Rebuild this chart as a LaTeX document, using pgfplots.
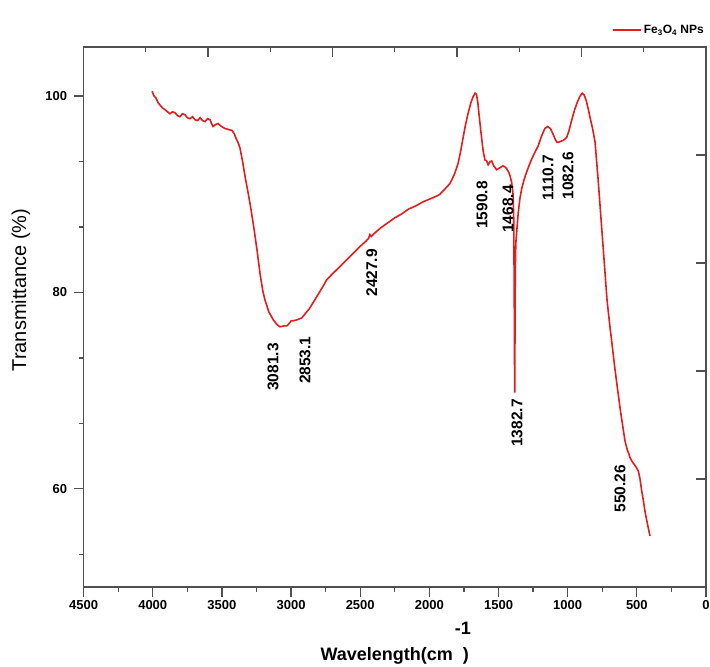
\documentclass[border=0pt]{standalone}
\usepackage{fontspec}
\setmainfont{Liberation Sans}
\usepackage{pgfplots}
\pgfplotsset{compat=1.18}
\usetikzlibrary{calc}
\definecolor{ftred}{RGB}{228,28,30}
\definecolor{axgray}{RGB}{80,80,80}
\tikzset{lab/.style={rotate=90, font=\bfseries\fontsize{15.5}{15.5}\selectfont, inner sep=0pt}}

\pgfplotstableread{
wn T
4005 100.5
3990 100.0
3977 99.8
3960 99.3
3948 99.1
3930 98.8
3911 98.6
3893 98.4
3875 98.2
3857 98.4
3839 98.3
3820 98.0
3803 97.9
3785 98.2
3767 98.1
3750 97.8
3731 97.7
3712 97.9
3695 97.6
3676 97.5
3658 97.8
3640 97.5
3622 97.4
3604 97.7
3586 97.6
3575 97.2
3564 96.9
3546 97.1
3528 97.2
3503 96.9
3478 96.7
3452 96.6
3427 96.5
3412 96.2
3398 95.7
3384 95.3
3369 94.7
3350 93.3
3330 91.6
3310 90.1
3296 89.0
3270 86.7
3246 84.3
3224 81.9
3205 80.2
3188 79.2
3160 78.0
3128 77.2
3100 76.7
3080 76.5
3050 76.6
3030 76.6
3010 76.9
3000 77.1
2990 77.1
2960 77.2
2923 77.4
2900 77.8
2870 78.3
2839 79.0
2800 79.9
2770 80.6
2742 81.3
2700 81.9
2650 82.6
2600 83.3
2550 84.0
2500 84.7
2460 85.2
2440 85.5
2430 85.9
2420 85.7
2400 86.0
2350 86.6
2300 87.1
2250 87.6
2200 88.0
2150 88.5
2100 88.8
2050 89.2
2000 89.5
1950 89.8
1924 90.0
1890 90.5
1851 91.1
1820 92.0
1793 93.1
1775 94.3
1757 95.7
1740 97.0
1721 98.2
1700 99.3
1685 99.9
1670 100.3
1660 100.2
1650 99.4
1640 98.0
1630 96.7
1622 95.7
1610 94.3
1598 93.5
1586 93.4
1575 93.0
1562 93.3
1550 93.4
1535 92.9
1514 92.5
1490 92.7
1468 92.9
1455 92.8
1441 92.6
1425 92.2
1417 91.9
1405 91.2
1395 90.0
1390 87.5
1386.5 80.0
1384 72.0
1382.7 69.8
1381.5 74.0
1380 80.0
1377 84.0
1374 85.2
1369 86.1
1357 88.2
1345 89.6
1332 90.6
1315 91.5
1296 92.3
1280 92.9
1260 93.6
1240 94.2
1214 94.9
1190 95.9
1165 96.7
1145 96.9
1125 96.7
1105 96.1
1090 95.6
1078 95.3
1065 95.3
1050 95.4
1030 95.5
1007 95.8
990 96.5
970 97.6
950 98.6
930 99.4
910 100.0
895 100.3
880 100.1
865 99.5
850 98.6
835 97.6
820 96.7
802 95.3
780 91.5
760 87.7
740 83.9
716 79.3
700 77.2
680 74.8
660 72.4
640 70.2
620 68.1
600 66.2
586 64.9
570 64.0
556 63.5
550 63.2
535 62.8
520 62.5
505 62.2
489 61.8
477 61.0
465 59.8
453 58.8
441 57.7
430 56.9
420 56.2
405 55.2
}\ftir

\begin{document}
\begin{tikzpicture}
\pgfplotsset{frame/.style={scale only axis, width=622.4pt, height=540pt,
    xmin=0, xmax=4500, ymin=50, ymax=105, x dir=reverse}}
\begin{axis}[frame, name=a, clip=false,
    axis line style={axgray, line width=1.3pt},
    every tick/.style={axgray, line width=1.3pt},
    tick align=outside, xtick pos=bottom, ytick pos=left,
    xtick={0,500,...,4500}, minor xtick={250,750,...,4250},
    ytick={60,80,100}, minor ytick={53.333,66.667,73.333,86.667,93.333},
    major tick length=10pt, minor tick length=5pt,
    /pgf/number format/assume math mode=true,
    /pgf/number format/1000 sep={},
    tick label style={font=\bfseries\fontsize{13}{13}\selectfont},
    yticklabel style={xshift=-3pt},
    xlabel={\bfseries\fontsize{18}{18}\selectfont Wavelength(cm\hspace{2pt}\rlap{\raisebox{26pt}{-1}}\hspace{8pt})},
    xlabel style={at={(axis description cs:0.5,0)}, anchor=base, yshift=-73pt},
    ylabel={\fontsize{20}{20}\selectfont Transmittance (\%)},
    ylabel style={at={(axis description cs:0,0.55)}, anchor=center, yshift=62.6pt},
    legend style={draw=none, fill=none, at={(axis description cs:1,1)}, anchor=east,
      yshift=17pt, inner sep=0pt, font=\bfseries\fontsize{12}{12}\selectfont},
    legend image code/.code={\draw[#1] (0pt,0pt) -- (28pt,0pt);},
  ]
  \addplot[ftred, line width=1.6pt] table[x=wn, y=T] {\ftir};
  \addlegendentry{Fe\textsubscript{3}O\textsubscript{4} NPs}
  \node[lab] at (axis cs:3131,72.4) {3081.3};
  \node[lab] at (axis cs:2899,73.1) {2853.1};
  \node[lab] at (axis cs:2416,82.0) {2427.9};
  \node[lab] at (axis cs:1620,88.9) {1590.8};
  \node[lab] at (axis cs:1431,88.5) {1468.4};
  \node[lab] at (axis cs:1142,91.7) {1110.7};
  \node[lab] at (axis cs:998,91.9) {1082.6};
  \node[lab] at (axis cs:1367,66.7) {1382.7};
  \node[lab] at (axis cs:622,60.0) {550.26};
  % inward ticks along the top edge
  \draw[axgray, line width=1.3pt]
    (axis cs:900,105) -- (axis cs:900,104)
    (axis cs:1800,105) -- (axis cs:1800,104)
    (axis cs:2700,105) -- (axis cs:2700,104)
    (axis cs:3600,105) -- (axis cs:3600,104)
    (axis cs:450,105) -- (axis cs:450,104.5)
    (axis cs:1350,105) -- (axis cs:1350,104.5)
    (axis cs:2250,105) -- (axis cs:2250,104.5)
    (axis cs:3150,105) -- (axis cs:3150,104.5)
    (axis cs:4050,105) -- (axis cs:4050,104.5);
\end{axis}
% mirror axis: inward ticks on the right edge
\begin{axis}[frame,
    axis line style={draw=none},
    tick style={axgray, line width=1.3pt},
    tick align=inside, xtick=\empty, ytick pos=upper,
    ytick={61,72,83,94},
    yticklabel=\empty,
    major tick length=10pt,
  ]
  \addplot[draw=none] table[x=wn, y=T] {\ftir};
\end{axis}
\pgfresetboundingbox
\path ($(a.south west)+(-83.6pt,-79pt)$) rectangle ($(a.north east)+(4pt,47pt)$);
\end{tikzpicture}
\end{document}
